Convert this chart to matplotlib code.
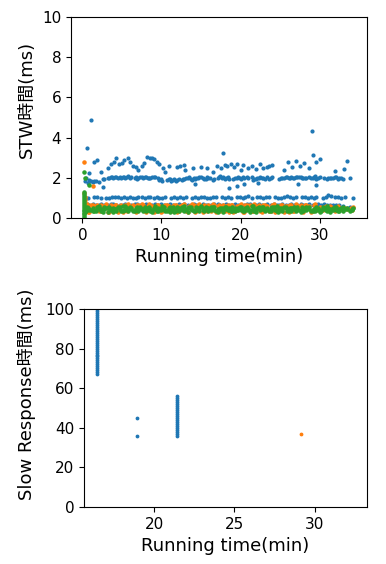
import numpy as np
import matplotlib
matplotlib.use('Agg')
import matplotlib.pyplot as plt

plt.rcParams['font.family'] = ['DejaVu Sans', 'Noto Sans CJK JP']
nan = float('nan')

# sample times (min) of the GC pauses, two interleaved grids
t_a = [0.3, 0.6, 0.9, 1.3, 1.7, 2.1, 2.4, 2.8, 3.2, 3.6,
       3.9, 4.3, 4.7, 5.1, 5.4, 5.8, 6.2, 6.6, 6.9, 7.3,
       7.7, 8.1, 8.4, 8.8, 9.2, 9.6, 9.9, 10.3, 10.7, 11.1,
       11.4, 11.8, 12.2, 12.6, 12.9, 13.3, 13.7, 14.1, 14.4, 14.8,
       15.2, 15.6, 15.9, 16.3, 16.7, 17.1, 17.4, 17.8, 18.2, 18.6,
       18.9, 19.3, 19.7, 20.1, 20.4, 20.8, 21.2, 21.6, 21.9, 22.3,
       22.7, 23.1, 23.4, 23.8, 24.2, 24.6, 24.9, 25.3, 25.7, 26.1,
       26.4, 26.8, 27.2, 27.6, 27.9, 28.3, 28.7, 29.1, 29.4, 29.8,
       30.2, 30.6, 30.9, 31.3, 31.7, 32.1, 32.5, 32.9, 33.5, 34.1]
t_b = [0.45, 0.75, 1.1, 1.5, 1.9, 2.3, 2.6, 3.0, 3.4, 3.75,
       4.1, 4.5, 4.9, 5.25, 5.6, 6.0, 6.4, 6.75, 7.1, 7.5,
       7.9, 8.25, 8.6, 9.0, 9.4, 9.75, 10.1, 10.5, 10.9, 11.25,
       11.6, 12.0, 12.4, 12.75, 13.1, 13.5, 13.9, 14.25, 14.6, 15.0,
       15.4, 15.75, 16.1, 16.5, 16.9, 17.25, 17.6, 18.0, 18.4, 18.75,
       19.1, 19.5, 19.9, 20.25, 20.6, 21.0, 21.4, 21.75, 22.1, 22.5,
       22.9, 23.25, 23.6, 24.0, 24.4, 24.75, 25.1, 25.5, 25.9, 26.25,
       26.6, 27.0, 27.4, 27.75, 28.1, 28.5, 28.9, 29.25, 29.6, 30.0,
       30.4, 30.75, 31.1, 31.5, 31.9, 32.3, 32.7, 33.2, 33.8, 34.25]

# STW pause lengths, in 1/100 ms
blue_low = [66, 68, 64, 70, 65, 67, 69, 63, 66, 68,
            70, 64, 67, 65, 69, 66, 63, 68, 71, 65,
            67, 69, 64, 66, 70, 63, 68, 65, 67, 69,
            64, 66, 71, 65, 68, 63, 67, 70, 64, 66,
            69, 65, 67, 63, 68, 70, 64, 66, 69, 65,
            66, 70, 63, 67, 65, 68, 71, 64, 66, 69,
            65, 67, 69, 64, 70, 66, 63, 68, 65, 67,
            68, 64, 66, 70, 65, 67, 69, 63, 66, 68,
            66, 68, 65, 67, 64, 66, 63, 60, 52, 47]
blue_one = [100, 98, nan, 104, 102, 97, nan, 101, 99, 103,
            102, 105, 100, 103, 98, 104, 101, 99, 106, 103,
            100, 104, 102, 97, 105, 101, 99, 103, nan, 98,
            102, 100, 104, 99, 103, nan, 101, 105, 100, 104,
            103, 101, 99, 106, 102, nan, 104, 100, 103, 101,
            nan, 105, 102, 99, 103, 108, 101, nan, 104, 102,
            100, 106, 103, nan, 105, 101, 99, 104, 107, 102,
            100, 104, nan, 103, 106, 101, 105, 99, 103, nan,
            100, 104, 112, 107, 102, 105, 99, 104, nan, 98]
blue_two_a = [nan, nan, 190, 180, 185, 178, nan, 192, 200, 205,
              198, 202, 206, 204, 199, 207, 203, 201, 196, 205,
              200, 204, 198, 206, 202, 199, 195, nan, 188, 192,
              190, 186, 194, 189, 192, 197, 195, 200, 198, 203,
              199, 196, 201, nan, 195, 200, 207, 203, 198, 194,
              nan, 199, 203, 196, 201, 206, nan, 190, 193, 197,
              199, 195, 202, 198, nan, nan, 196, 200, 203, 198,
              204, 199, 202, 206, 198, 201, 205, 200, 207, 197,
              nan, 199, 196, 201, 198, 204, 200, 196, nan, nan]
blue_two_b = [nan, 175, 186, 182, nan, nan, 195, nan, 198, 203,
              204, 200, 197, 203, 206, 200, nan, 204, 198, 202,
              206, 201, 197, 203, nan, 190, 185, nan, 194, 186,
              193, 188, nan, 192, 198, 203, 190, 196, 201, 205,
              195, 203, 198, 191, nan, 204, 201, 196, 205, nan,
              192, 197, 200, 204, nan, 198, 202, 195, 199, 204,
              200, nan, 195, 204, nan, nan, 200, 197, 204, 201,
              199, 206, 203, 197, 201, nan, 199, 206, 195, 204,
              nan, nan, 201, 198, 203, 196, 199, nan, 197, nan]
orange_a = [62, 68, 30, 65, 58, 33, 66, 60, 28, 64,
            35, 67, 61, 31, 63, 69, 57, 34, 66, 59,
            64, 32, 68, 60, 36, 65, 29, 62, 67, 33,
            58, 66, 34, 63, 69, 30, 61, 65, 37, 68,
            31, 60, 67, 35, 64, 58, 33, 66, 62, 29,
            65, 34, 59, 68, 31, 63, 67, 36, 60, 64,
            30, 66, 62, 33, 69, 57, 35, 64, 61, 32,
            67, 36, 60, 65, 30, 63, 58, 34, 68, 44,
            48, 55, 42, 60, 45, 52, 38, 50, 46, 40]
orange_b = [66, 31, 63, 59, 67, 35, 61, 68, 32, 58,
            64, 29, 67, 62, 34, 60, 66, 30, 63, 69,
            33, 61, 65, 31, 67, 58, 35, 64, 60, 36,
            67, 32, 59, 66, 34, 62, 68, 29, 63, 57,
            65, 34, 61, 68, 30, 66, 59, 35, 64, 67,
            32, 62, 66, 29, 65, 60, 33, 68, 57, 35,
            64, 59, 34, 67, 31, 62, 66, 30, 58, 65,
            33, 68, 61, 35, 64, 57, 31, 66, 42, 55,
            40, 58, 47, 53, 36, 62, 45, 49, 41, 56]
green_a = [40, 45, 38, 52, 35, 48, 42, 55, 30, 46,
           50, 36, 44, 58, 41, 33, 47, 39, 53, 45,
           37, 49, 56, 32, 43, 51, 38, 46, 34, 57,
           42, 35, 50, 44, 59, 31, 47, 40, 54, 36,
           48, 43, 33, 55, 39, 46, 52, 30, 45, 41,
           57, 36, 49, 42, 34, 53, 40, 47, 31, 56,
           44, 38, 51, 35, 46, 58, 41, 33, 49, 43,
           37, 54, 45, 32, 50, 39, 56, 42, 35, 48,
           41, 52, 34, 47, 38, 55, 44, 36, 50, 46]
green_b = [33, 50, 42, 36, 55, 44, 31, 49, 57, 38,
           45, 53, 35, 40, 48, 56, 37, 51, 34, 43,
           55, 41, 34, 48, 37, 45, 59, 36, 50, 42,
           31, 53, 45, 38, 47, 55, 39, 33, 49, 58,
           36, 51, 44, 57, 35, 42, 49, 56, 38, 34,
           46, 41, 55, 37, 52, 44, 58, 35, 50, 39,
           53, 47, 36, 56, 40, 32, 48, 54, 37, 52,
           49, 33, 40, 57, 43, 51, 36, 47, 55, 31,
           54, 38, 48, 42, 56, 35, 51, 45, 33, 52]
green_c = [28, 55, 47, 33, 41, 58, 36, 44, 51, 39,
           32, 47, 55, 37, 59, 43, 51, 34, 46, 57,
           45, 36, 52, 41, 58, 33, 47, 55, 42, 31,
           53, 44, 37, 57, 33, 48, 56, 36, 42, 51,
           39, 57, 48, 41, 53, 31, 45, 38, 56, 49,
           33, 52, 38, 55, 46, 39, 32, 58, 43, 48,
           57, 33, 45, 49, 54, 37, 52, 45, 56, 36,
           51, 44, 57, 40, 36, 55, 43, 33, 46, 39,
           36, 45, 58, 32, 49, 42, 37, 53, 47, 41]

# scattered individual pauses (min, ms)
blue_sx = [0.6, 1.1, 0.5, 0.4, 0.8, 1.5, 1.8, 2.3, 2.6, 3.2, 3.6, 4.0, 4.2, 4.6, 5.0,
           5.3, 5.8, 6.0, 6.4, 6.8, 7.0, 7.5, 7.8, 8.2, 8.5, 8.8, 9.1, 9.4, 9.7, 10.2,
           10.5, 11.0, 12.0, 12.4, 12.8, 13.0, 14.0, 14.2, 15.0, 15.8, 16.5, 17.0, 17.5,
           17.8, 18.0, 18.3, 18.5, 18.8, 19.2, 19.5, 19.6, 20.0, 20.3, 20.5, 21.0, 21.5,
           22.0, 22.2, 22.4, 22.8, 23.3, 23.6, 24.0, 25.5, 26.0, 26.5, 27.0, 27.3, 27.5,
           28.0, 28.6, 29.0, 29.2, 29.5, 29.6, 30.0, 32.0, 33.1, 33.5, 33.8, 33.9, 34.0, 34.2]
blue_sy = [3.5, 4.85, 2.0, 1.85, 2.25, 2.8, 2.9, 2.3, 1.55, 2.5, 2.7, 2.8, 3.0, 2.7, 2.75,
           2.9, 3.0, 2.8, 2.6, 2.55, 2.4, 2.6, 2.75, 3.05, 3.0, 3.0, 2.95, 2.8, 2.7, 2.5,
           2.3, 2.6, 2.55, 2.6, 2.65, 2.4, 2.5, 1.7, 2.55, 2.5, 2.3, 2.6, 2.5,
           3.25, 2.65, 2.6, 1.5, 2.7, 2.55, 1.6, 2.7, 2.4, 2.65, 1.7, 2.5, 2.6,
           2.45, 1.75, 2.7, 2.5, 2.55, 2.6, 2.65, 2.4, 2.8, 2.55, 2.85, 1.7, 2.6,
           2.75, 2.5, 4.35, 3.15, 1.65, 2.8, 2.95, 2.35, 2.45, 2.85, 0.45, 0.55, 0.5, 0.52]
orange_sx = [0.25, 0.25, 0.3, 1.3, 0.35, 34.0]
orange_sy = [2.8, 1.25, 1.05, 1.6, 0.9, 0.5]
green_sx = [0.25, 0.25, 0.25, 0.25, 0.25, 0.25, 0.25, 0.25, 0.25, 0.25,
            0.25, 0.25, 0.25, 0.25, 0.25, 0.25, 0.3, 0.85]
green_sy = [0.02, 0.1, 0.18, 0.26, 0.34, 0.42, 0.5, 0.6, 0.7, 0.8,
            0.9, 1.0, 1.1, 1.2, 1.3, 2.3, 2.0, 1.64]

# slow responses (min, ms)
slow_blue_x = [16.45] * 34 + [18.92, 18.92] + [21.39] * 21
slow_blue_y = [67, 68, 69, 70, 71, 72, 73, 74, 75, 76, 77, 78, 79, 80, 81, 82, 83,
               84, 85, 86, 87, 88, 89, 90, 91, 92, 93, 94, 95, 96, 97, 98, 99, 100,
               45, 36,
               36, 37, 38, 39, 40, 41, 42, 43, 44, 45, 46, 47, 48, 49, 50, 51, 52,
               53, 54, 55, 56]
slow_orange_x = [29.17]
slow_orange_y = [37]

c_blue, c_orange, c_green = '#1f77b4', '#ff7f0e', '#2ca02c'
ms = 4

fig = plt.figure(figsize=(3.86, 5.64), dpi=100)

ax1 = fig.add_axes([0.184, 0.6135, 0.767, 0.3564])
ax1.scatter(t_a, np.array(blue_low) / 100, s=ms, c=c_blue)
ax1.scatter(t_b, np.array(blue_one) / 100, s=ms, c=c_blue)
ax1.scatter(t_a, np.array(blue_two_a) / 100, s=ms, c=c_blue)
ax1.scatter(t_b, np.array(blue_two_b) / 100, s=ms, c=c_blue)
ax1.scatter(blue_sx, blue_sy, s=ms, c=c_blue)
ax1.scatter(t_a, np.array(orange_a) / 100, s=ms + 1, c=c_orange)
ax1.scatter(t_b, np.array(orange_b) / 100, s=ms + 1, c=c_orange)
ax1.scatter(orange_sx, orange_sy, s=ms + 1, c=c_orange)
ax1.scatter(t_a, np.array(green_a) / 100, s=ms + 1, c=c_green)
ax1.scatter(t_b, np.array(green_b) / 100, s=ms + 1, c=c_green)
ax1.scatter(t_a, np.array(green_c) / 100, s=ms + 1, c=c_green)
ax1.scatter(green_sx, green_sy, s=ms + 1, c=c_green)
ax1.set_xlim(-1.43, 36.0)
ax1.set_ylim(0, 10)
ax1.set_xticks([0, 10, 20, 30])
ax1.set_yticks([0, 2, 4, 6, 8, 10])
ax1.set_xlabel('Running time(min)', fontsize=13)
ax1.set_ylabel('STW時間(ms)', fontsize=13)
ax1.yaxis.set_label_coords(-0.12, 0.59)
ax1.tick_params(labelsize=11)

ax2 = fig.add_axes([0.2176, 0.1011, 0.7332, 0.3511])
ax2.scatter(slow_blue_x, slow_blue_y, s=3, c=c_blue)
ax2.scatter(slow_orange_x, slow_orange_y, s=3, c=c_orange)
ax2.set_xlim(15.63, 33.25)
ax2.set_ylim(0, 100)
ax2.set_xticks([20, 25, 30])
ax2.set_yticks([0, 20, 40, 60, 80, 100])
ax2.set_xlabel('Running time(min)', fontsize=13)
ax2.set_ylabel('Slow Response時間(ms)', fontsize=13)
ax2.yaxis.set_label_coords(-0.17, 0.57)
ax2.tick_params(labelsize=11)

fig.savefig('out.png', dpi=100)
